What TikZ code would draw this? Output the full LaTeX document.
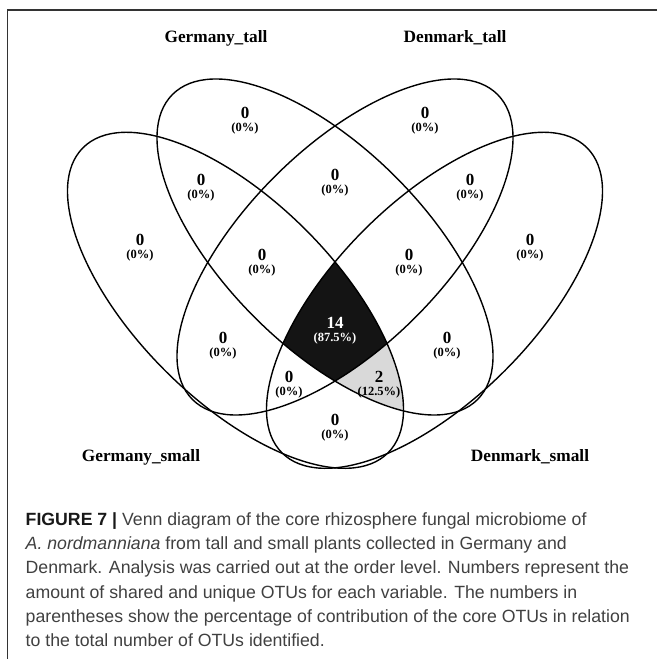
\documentclass[tikz,border=0pt]{standalone}
\usepackage{fontspec}
\setmainfont{Liberation Serif}
\newfontfamily\capfont{Liberation Sans}
\begin{document}
\begin{tikzpicture}[x=1pt,y=1pt,
  venn/.style={line width=1.4pt, draw=black},
  eA/.style={shift={(235.5,358.7)}, rotate=-45},
  eB/.style={shift={(325,412)}, rotate=-45},
  eC/.style={shift={(345,412)}, rotate=45},
  eD/.style={shift={(434.5,358.7)}, rotate=45},
  num/.style={font=\bfseries\fontsize{17}{17}\selectfont, inner sep=0pt, anchor=base},
  pct/.style={font=\bfseries\fontsize{12.5}{12.5}\selectfont, inner sep=0pt, anchor=base},
  setlab/.style={font=\bfseries\fontsize{17.3}{17.3}\selectfont, inner sep=0pt, anchor=base},
  capline/.style={font=\capfont\fontsize{17.7}{17.7}\selectfont, inner sep=0pt, anchor=base west, text=black!75},
  frame/.style={line width=1.3pt, draw=black!80}
]
\useasboundingbox (0,0) rectangle (657,659);
\def\ra{215.7pt}
\def\rb{99.5pt}
% frame
\coordinate (fr1) at (657,649);
\coordinate (fr2) at (7.5,649);
\coordinate (fr3) at (7.5,0);
\draw[frame] (fr1) -- (fr2) -- (fr3);
% gray region: A, B, D but not C; black region: all four
\begin{scope}
  \clip[eA] (0,0) ellipse [x radius=\ra, y radius=\rb];
  \clip[eB] (0,0) ellipse [x radius=\ra, y radius=\rb];
  \clip[eD] (0,0) ellipse [x radius=\ra, y radius=\rb];
  \fill[gray!30] (0,0) rectangle (657,659);
  \clip[eC] (0,0) ellipse [x radius=\ra, y radius=\rb];
  \fill[black!92] (0,0) rectangle (657,659);
\end{scope}
% ellipses
\draw[venn, eA] (0,0) ellipse [x radius=\ra, y radius=\rb];
\draw[venn, eB] (0,0) ellipse [x radius=\ra, y radius=\rb];
\draw[venn, eC] (0,0) ellipse [x radius=\ra, y radius=\rb];
\draw[venn, eD] (0,0) ellipse [x radius=\ra, y radius=\rb];
% set labels
\node[setlab] (lgt) at (216,616) {Germany\_tall};
\node[setlab] (ldt) at (455,616) {Denmark\_tall};
\node[setlab] (lgs) at (141,197) {Germany\_small};
\node[setlab] (lds) at (530,197) {Denmark\_small};
% region labels
\node[num] (n1) at (245,540.5) {0}; \node[pct] (p1) at (245,527.5) {(0\%)};
\node[num] (n2) at (425,540.5) {0}; \node[pct] (p2) at (425,527.5) {(0\%)};
\node[num] (n3) at (201,473) {0}; \node[pct] (p3) at (201,460) {(0\%)};
\node[num] (n4) at (335,478) {0}; \node[pct] (p4) at (335,465) {(0\%)};
\node[num] (n5) at (470,473) {0}; \node[pct] (p5) at (470,460) {(0\%)};
\node[num] (n6) at (140,413) {0}; \node[pct] (p6) at (140,400) {(0\%)};
\node[num] (n7) at (530,413) {0}; \node[pct] (p7) at (530,400) {(0\%)};
\node[num] (n8) at (262,398) {0}; \node[pct] (p8) at (262,385) {(0\%)};
\node[num] (n9) at (409,398) {0}; \node[pct] (p9) at (409,385) {(0\%)};
\node[num, text=white] (n10) at (335,330.7) {14}; \node[pct, text=white] (p10) at (335,317.3) {(87.5\%)};
\node[num] (n11) at (223,315.5) {0}; \node[pct] (p11) at (223,302.5) {(0\%)};
\node[num] (n12) at (447,315.5) {0}; \node[pct] (p12) at (447,302.5) {(0\%)};
\node[num] (n13) at (289,276) {0}; \node[pct] (p13) at (289,263) {(0\%)};
\node[num] (n14) at (379,276) {2}; \node[pct] (p14) at (379,263) {(12.5\%)};
\node[num] (n15) at (335,233) {0}; \node[pct] (p15) at (335,220) {(0\%)};
% caption
\node[capline] (c1) at (25.5,133.6) {{\bfseries\color{black!90}FIGURE 7 |} Venn diagram of the core rhizosphere fungal microbiome of};
\node[capline] (c2) at (25.5,109.3) {\textit{A. nordmanniana} from tall and small plants collected in Germany and};
\node[capline] (c3) at (25.5,85) {Denmark. Analysis was carried out at the order level. Numbers represent the};
\node[capline] (c4) at (25.5,60.7) {amount of shared and unique OTUs for each variable. The numbers in};
\node[capline] (c5) at (25.5,36.3) {parentheses show the percentage of contribution of the core OTUs in relation};
\node[capline] (c6) at (25.5,12.3) {to the total number of OTUs identified.};
\end{tikzpicture}
\end{document}
